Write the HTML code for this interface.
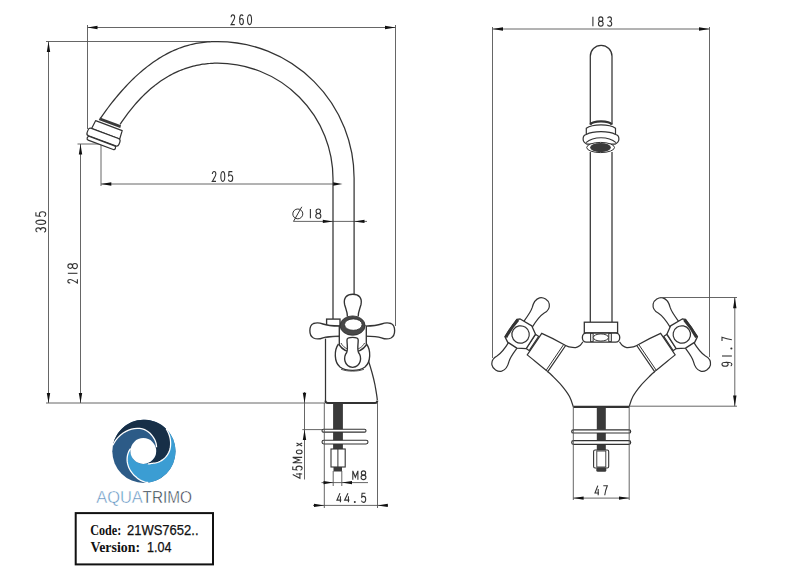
<!DOCTYPE html>
<html><head><meta charset="utf-8"><style>
html,body{margin:0;padding:0;background:#fff;width:800px;height:583px;overflow:hidden}
svg{display:block}
</style></head><body>
<svg width="800" height="583" viewBox="0 0 800 583">
<line x1="87.5" y1="25" x2="87.5" y2="129" stroke="#555" stroke-width="0.9" fill="none"/>
<line x1="395.5" y1="25" x2="395.5" y2="326" stroke="#555" stroke-width="0.9" fill="none"/>
<line x1="87.5" y1="27.5" x2="395.5" y2="27.5" stroke="#555" stroke-width="0.9" fill="none"/>
<polygon points="87.50,27.50 97.50,29.20 97.50,25.80" fill="#111"/>
<polygon points="395.50,27.50 385.00,25.80 385.00,29.20" fill="#111"/>
<g transform="translate(231.00,14.85) scale(0.760,0.933)" fill="none" stroke="#333" stroke-width="1.1"><path d="M0.2,2.6 C0.2,1 1.2,0 2.5,0 C3.8,0 4.8,1 4.8,2.6 C4.8,4.4 3.6,5.8 0.1,10.45 L5,10.45" vector-effect="non-scaling-stroke"/></g>
<g transform="translate(239.60,14.85) scale(0.760,0.933)" fill="none" stroke="#333" stroke-width="1.1"><path d="M4.6,1.2 C4.2,0.4 3.4,0 2.5,0 C0.9,0 0,2.3 0,5.6 C0,8.8 1,10.5 2.5,10.5 C4,10.5 5,9.1 5,7.1 C5,5.1 4,3.9 2.5,3.9 C1.2,3.9 0.3,4.8 0,6.2" vector-effect="non-scaling-stroke"/></g>
<g transform="translate(247.50,14.85) scale(0.820,0.933)" fill="none" stroke="#333" stroke-width="1.1"><ellipse cx="2.5" cy="5.25" rx="2.45" ry="5.2" vector-effect="non-scaling-stroke"/></g>
<line x1="46" y1="41.5" x2="210" y2="41.5" stroke="#555" stroke-width="0.9" fill="none"/>
<line x1="48.5" y1="41.5" x2="48.5" y2="403" stroke="#555" stroke-width="0.9" fill="none"/>
<polygon points="48.50,41.50 46.80,52.00 50.20,52.00" fill="#111"/>
<polygon points="48.50,403.00 50.20,393.00 46.80,393.00" fill="#111"/>
<line x1="46" y1="403" x2="325" y2="403" stroke="#555" stroke-width="0.9" fill="none"/>
<g transform="translate(35.85,232.20) rotate(-90) scale(0.920,0.943)" fill="none" stroke="#333" stroke-width="1.1"><path d="M0.2,1.6 C0.6,0.6 1.4,0 2.5,0 C3.8,0 4.7,1 4.7,2.6 C4.7,4.1 3.7,5 2.1,5 C4,5 5,6.2 5,7.8 C5,9.5 3.9,10.5 2.5,10.5 C1.3,10.5 0.4,9.9 0,8.8" vector-effect="non-scaling-stroke"/></g>
<g transform="translate(35.85,224.40) rotate(-90) scale(0.860,0.943)" fill="none" stroke="#333" stroke-width="1.1"><ellipse cx="2.5" cy="5.25" rx="2.45" ry="5.2" vector-effect="non-scaling-stroke"/></g>
<g transform="translate(35.85,216.60) rotate(-90) scale(0.960,0.943)" fill="none" stroke="#333" stroke-width="1.1"><path d="M4.6,0.05 L0.8,0.05 L0.35,4.4 C0.9,3.9 1.7,3.7 2.5,3.7 C4,3.7 5,5 5,7 C5,9.2 3.9,10.5 2.5,10.5 C1.3,10.5 0.4,9.8 0,8.6" vector-effect="non-scaling-stroke"/></g>
<line x1="77.5" y1="144" x2="101" y2="144" stroke="#555" stroke-width="0.9" fill="none"/>
<line x1="80.5" y1="144" x2="80.5" y2="403" stroke="#555" stroke-width="0.9" fill="none"/>
<polygon points="80.50,144.00 78.80,154.50 82.20,154.50" fill="#111"/>
<polygon points="80.50,403.00 82.20,393.00 78.80,393.00" fill="#111"/>
<g transform="translate(67.85,283.10) rotate(-90) scale(0.760,0.914)" fill="none" stroke="#333" stroke-width="1.1"><path d="M0.2,2.6 C0.2,1 1.2,0 2.5,0 C3.8,0 4.8,1 4.8,2.6 C4.8,4.4 3.6,5.8 0.1,10.45 L5,10.45" vector-effect="non-scaling-stroke"/></g>
<g transform="translate(67.85,275.40) rotate(-90) scale(0.840,0.914)" fill="none" stroke="#333" stroke-width="1.1"><path d="M2.5,0 L2.5,10.5" vector-effect="non-scaling-stroke"/></g>
<g transform="translate(67.85,268.70) rotate(-90) scale(1.040,0.914)" fill="none" stroke="#333" stroke-width="1.1"><ellipse cx="2.5" cy="2.6" rx="2.15" ry="2.55" vector-effect="non-scaling-stroke"/><ellipse cx="2.5" cy="7.75" rx="2.45" ry="2.7" vector-effect="non-scaling-stroke"/></g>
<line x1="101" y1="144" x2="101" y2="186" stroke="#555" stroke-width="0.9" fill="none"/>
<line x1="101" y1="184" x2="333" y2="184" stroke="#555" stroke-width="0.9" fill="none"/>
<polygon points="101.00,184.00 111.30,185.70 111.30,182.30" fill="#111"/>
<polygon points="342.50,184.00 333.00,182.30 333.00,185.70" fill="#111"/>
<g transform="translate(212.20,171.55) scale(0.760,0.943)" fill="none" stroke="#333" stroke-width="1.1"><path d="M0.2,2.6 C0.2,1 1.2,0 2.5,0 C3.8,0 4.8,1 4.8,2.6 C4.8,4.4 3.6,5.8 0.1,10.45 L5,10.45" vector-effect="non-scaling-stroke"/></g>
<g transform="translate(220.80,171.55) scale(0.800,0.943)" fill="none" stroke="#333" stroke-width="1.1"><ellipse cx="2.5" cy="5.25" rx="2.45" ry="5.2" vector-effect="non-scaling-stroke"/></g>
<g transform="translate(228.30,171.55) scale(0.880,0.943)" fill="none" stroke="#333" stroke-width="1.1"><path d="M4.6,0.05 L0.8,0.05 L0.35,4.4 C0.9,3.9 1.7,3.7 2.5,3.7 C4,3.7 5,5 5,7 C5,9.2 3.9,10.5 2.5,10.5 C1.3,10.5 0.4,9.8 0,8.6" vector-effect="non-scaling-stroke"/></g>
<line x1="293.5" y1="221.4" x2="367" y2="221.4" stroke="#555" stroke-width="0.9" fill="none"/>
<polygon points="333.00,221.40 322.80,219.70 322.80,223.10" fill="#111"/>
<polygon points="354.20,221.40 364.50,223.10 364.50,219.70" fill="#111"/>
<ellipse cx="297.8" cy="213.9" rx="5" ry="4.9" stroke="#333" stroke-width="1" fill="none"/>
<line x1="293.5" y1="221.4" x2="301.8" y2="206.8" stroke="#333" stroke-width="1"/>
<g transform="translate(308.30,208.95) scale(0.840,0.895)" fill="none" stroke="#333" stroke-width="1.1"><path d="M2.5,0 L2.5,10.5" vector-effect="non-scaling-stroke"/></g>
<g transform="translate(315.70,208.95) scale(1.040,0.895)" fill="none" stroke="#333" stroke-width="1.1"><ellipse cx="2.5" cy="2.6" rx="2.15" ry="2.55" vector-effect="non-scaling-stroke"/><ellipse cx="2.5" cy="7.75" rx="2.45" ry="2.7" vector-effect="non-scaling-stroke"/></g>
<path d="M100.40,118.31 L102.35,115.52 L104.30,112.79 L106.26,110.11 L108.21,107.50 L110.16,104.94 L112.11,102.43 L114.06,99.99 L116.01,97.59 L117.97,95.26 L119.92,92.98 L121.87,90.75 L123.82,88.58 L125.77,86.46 L127.72,84.39 L129.68,82.38 L131.63,80.42 L133.58,78.52 L135.53,76.66 L137.48,74.86 L139.43,73.11 L141.38,71.41 L143.34,69.77 L145.29,68.17 L147.24,66.63 L149.19,65.13 L151.14,63.69 L153.09,62.29 L155.05,60.94 L157.00,59.65 L158.95,58.40 L160.90,57.20 L162.85,56.05 L164.81,54.94 L166.76,53.89 L168.71,52.88 L170.66,51.92 L172.61,51.00 L174.56,50.13 L176.51,49.30 L178.47,48.53 L180.42,47.79 L182.37,47.10 L184.32,46.45 L186.27,45.85 L188.23,45.29 L190.18,44.77 L192.13,44.29 L194.08,43.85 L196.03,43.46 L197.98,43.10 L199.94,42.78 L201.89,42.51 L203.84,42.27 L205.79,42.06 L207.74,41.90 L209.69,41.77 L211.64,41.67 L213.60,41.61 L215.55,41.59 L217.50,41.59 A136.5,136.5 0 0 1 354.1,178.2 L354.1,294" stroke="#333" stroke-width="1.25" fill="none"/>
<path d="M120.10,124.38 L121.72,121.97 L123.35,119.62 L124.97,117.33 L126.59,115.11 L128.22,112.95 L129.84,110.84 L131.46,108.80 L133.09,106.82 L134.71,104.90 L136.33,103.03 L137.96,101.22 L139.58,99.46 L141.20,97.75 L142.83,96.10 L144.45,94.49 L146.07,92.94 L147.70,91.44 L149.32,89.99 L150.94,88.58 L152.57,87.22 L154.19,85.90 L155.81,84.63 L157.44,83.41 L159.06,82.23 L160.68,81.09 L162.31,79.99 L163.93,78.93 L165.55,77.92 L167.18,76.94 L168.80,76.00 L170.42,75.10 L172.05,74.24 L173.67,73.42 L175.29,72.63 L176.92,71.88 L178.54,71.16 L180.16,70.47 L181.79,69.82 L183.41,69.21 L185.03,68.62 L186.66,68.07 L188.28,67.55 L189.90,67.07 L191.53,66.61 L193.15,66.18 L194.77,65.79 L196.40,65.42 L198.02,65.08 L199.64,64.77 L201.27,64.49 L202.89,64.24 L204.51,64.01 L206.14,63.81 L207.76,63.64 L209.38,63.50 L211.01,63.38 L212.63,63.29 L214.25,63.22 L215.88,63.18 L217.50,63.17 A115.5,115.5 0 0 1 333,178.7 L333,319" stroke="#333" stroke-width="1.25" fill="none"/>
<g transform="translate(110.3,121.9) rotate(20.5) scale(1,1.06)"><path d="M-11.2,-0.6 L11.2,-0.6 L11.5,2.1 L-11.5,2.1 Z" fill="#3a3a3a"/><path d="M-14.2,3.8 L14.2,3.8 L14.8,12 L-15.2,12 Z" stroke="#333" stroke-width="1.2" fill="#fff" stroke-linejoin="round"/><rect x="-18" y="12" width="34" height="7.5" rx="2.6" stroke="#333" stroke-width="1.2" fill="#fff"/><rect x="-16" y="19.8" width="30" height="3.6" rx="1.6" stroke="#333" stroke-width="1.2" fill="#fff"/></g>
<path d="M325.5,338.6 L325.5,401" stroke="#333" stroke-width="1.25" fill="none"/>
<path d="M368,359.5 C370.5,367 373,375 375,385 C376.2,392 377,396 377.3,400" stroke="#333" stroke-width="1.25" fill="none"/>
<path d="M325.5,400.8 C325.5,402.3 326,403 327.8,403 L375,403 C376.6,403 377.3,402.3 377.3,400.5" stroke="#333" stroke-width="2" fill="none"/>
<rect x="326.6" y="319.1" width="13.4" height="6.9" stroke="#333" stroke-width="1.35" fill="#fff"/>
<path d="M347.4,316.5 C347.6,312 345.6,308.5 344.6,304.5 C343.2,297.5 347,294.2 352.8,294.2 C358.6,294.2 362.4,297.5 361,304.5 C360,308.5 358,312 358.2,316.5" stroke="#333" stroke-width="1.35" fill="#fff"/>
<path d="M339.5,326.1 C333,326 327,325.5 323,324 C320,322.8 316.5,322.4 313.5,323.5 C308.8,325.5 308.5,335.5 313.5,338 C316.5,339.4 320,339 323,337.8 C327,336.5 333,336.2 339.5,336.1" stroke="#333" stroke-width="1.35" fill="#fff"/>
<path d="M326,337.6 C330,336.8 334,336.5 339.5,336.6" stroke="#444" stroke-width="1" fill="none"/>
<path d="M365,326.1 C371.5,326 377.5,325.5 381.5,324 C384.5,322.8 388,322.4 391,323.5 C395.7,325.5 396,335.5 391,338 C388,339.4 384.5,339 381.5,337.8 C377.5,336.5 371.5,336.2 365,336.1" stroke="#333" stroke-width="1.35" fill="#fff"/>
<path d="M338.5,344 C334,350 334,362 340,367 C346,371.5 359,371.5 365,367 C371,362 371,350 366.5,344" stroke="#333" stroke-width="1.35" fill="#fff"/>
<path d="M341,369.2 C347,371.8 358,371.8 364,369.2" stroke="#444" stroke-width="0.9" fill="none"/>
<path d="M339.3,326 L339.3,345 C342,349 347,352 352.8,352 C358.5,352 363.5,349 366.3,345 L366.3,326" stroke="#333" stroke-width="1.35" fill="#fff"/>
<path d="M341,343 C343,347 347,349 348,349 M364.6,343 C362.5,347 358.5,349 357.5,349" stroke="#444" stroke-width="1" fill="none"/>
<ellipse cx="352.6" cy="325.6" rx="12.5" ry="9.7" fill="#484848" stroke="#2a2a2a" stroke-width="0.8"/>
<ellipse cx="353.3" cy="324.6" rx="8.8" ry="5.7" fill="#fff" stroke="#2a2a2a" stroke-width="0.8"/>
<path d="M347,340 C347,336.5 358.2,336.5 358.2,340 C358.2,345 357,349 358.5,352.5 C362,357 361.5,366.5 352.6,367.3 C343.8,366.5 343.2,357 346.7,352.5 C348.2,349 347,345 347,340Z" stroke="#333" stroke-width="1.35" fill="#fff"/>
<rect x="333.1" y="403.5" width="9.8" height="45.5" fill="#3a3a3a"/>
<rect x="322" y="429.3" width="44" height="2.8" rx="1.4" stroke="#333" stroke-width="1.1" fill="#fff"/>
<rect x="322" y="440.2" width="46" height="3.8" rx="1.9" stroke="#333" stroke-width="1.1" fill="#fff"/>
<rect x="331" y="449" width="14.2" height="18" stroke="#333" stroke-width="1.1" fill="#fff"/>
<line x1="337.9" y1="449" x2="337.9" y2="467" stroke="#333" stroke-width="1"/>
<rect x="333.5" y="467" width="8.5" height="4.5" fill="#3a3a3a"/>
<line x1="333.2" y1="471" x2="333.2" y2="486" stroke="#555" stroke-width="0.9" fill="none"/>
<line x1="341.8" y1="471" x2="341.8" y2="486" stroke="#555" stroke-width="0.9" fill="none"/>
<line x1="324.3" y1="403" x2="324.3" y2="508" stroke="#555" stroke-width="0.9" fill="none"/>
<line x1="377.5" y1="403" x2="377.5" y2="508" stroke="#555" stroke-width="0.9" fill="none"/>
<line x1="304.5" y1="392" x2="304.5" y2="479.5" stroke="#555" stroke-width="0.9" fill="none"/>
<polygon points="304.50,403.00 306.20,392.70 302.80,392.70" fill="#111"/>
<polygon points="304.50,429.60 302.80,440.00 306.20,440.00" fill="#111"/>
<line x1="302.3" y1="429.6" x2="322" y2="429.6" stroke="#555" stroke-width="0.9" fill="none"/>
<g transform="translate(292.75,478.30) rotate(-90) scale(1.080,0.895)" fill="none" stroke="#333" stroke-width="1.1"><path d="M3.5,0 L0,8 L5,8 M4,3.6 L4,10.5" vector-effect="non-scaling-stroke"/></g>
<g transform="translate(292.75,470.20) rotate(-90) scale(0.820,0.895)" fill="none" stroke="#333" stroke-width="1.1"><path d="M4.6,0.05 L0.8,0.05 L0.35,4.4 C0.9,3.9 1.7,3.7 2.5,3.7 C4,3.7 5,5 5,7 C5,9.2 3.9,10.5 2.5,10.5 C1.3,10.5 0.4,9.8 0,8.6" vector-effect="non-scaling-stroke"/></g>
<g transform="translate(292.75,462.90) rotate(-90) scale(1.120,0.895)" fill="none" stroke="#333" stroke-width="1.1"><path d="M0.1,10.5 L0.1,0 L2.5,7.6 L4.9,0 L4.9,10.5" vector-effect="non-scaling-stroke"/></g>
<g transform="translate(292.75,453.90) rotate(-90) scale(0.800,0.895)" fill="none" stroke="#333" stroke-width="1.1"><ellipse cx="2.5" cy="7.25" rx="2.4" ry="3.2" vector-effect="non-scaling-stroke"/></g>
<g transform="translate(292.75,446.20) rotate(-90) scale(0.680,0.895)" fill="none" stroke="#333" stroke-width="1.1"><path d="M0.3,4.2 L4.7,10.5 M4.7,4.2 L0.3,10.5" vector-effect="non-scaling-stroke"/></g>
<line x1="321.5" y1="482.6" x2="368" y2="482.6" stroke="#555" stroke-width="0.9" fill="none"/>
<polygon points="333.20,482.60 323.50,480.90 323.50,484.30" fill="#111"/>
<polygon points="341.80,482.60 352.00,484.30 352.00,480.90" fill="#111"/>
<g transform="translate(352.70,470.85) scale(1.060,0.838)" fill="none" stroke="#333" stroke-width="1.1"><path d="M0.1,10.5 L0.1,0 L2.5,7.6 L4.9,0 L4.9,10.5" vector-effect="non-scaling-stroke"/></g>
<g transform="translate(361.00,470.85) scale(1.000,0.838)" fill="none" stroke="#333" stroke-width="1.1"><ellipse cx="2.5" cy="2.6" rx="2.15" ry="2.55" vector-effect="non-scaling-stroke"/><ellipse cx="2.5" cy="7.75" rx="2.45" ry="2.7" vector-effect="non-scaling-stroke"/></g>
<line x1="313" y1="505.4" x2="388" y2="505.4" stroke="#555" stroke-width="0.9" fill="none"/>
<polygon points="324.30,505.40 314.00,503.70 314.00,507.10" fill="#111"/>
<polygon points="377.50,505.40 387.80,507.10 387.80,503.70" fill="#111"/>
<g transform="translate(336.90,493.15) scale(0.880,0.876)" fill="none" stroke="#333" stroke-width="1.1"><path d="M3.5,0 L0,8 L5,8 M4,3.6 L4,10.5" vector-effect="non-scaling-stroke"/></g>
<g transform="translate(344.60,493.15) scale(0.960,0.876)" fill="none" stroke="#333" stroke-width="1.1"><path d="M3.5,0 L0,8 L5,8 M4,3.6 L4,10.5" vector-effect="non-scaling-stroke"/></g>
<g transform="translate(352.70,493.15) scale(0.840,0.876)" fill="none" stroke="#333" stroke-width="1.1"><circle cx="2.5" cy="10" r="0.55" fill="#333" vector-effect="non-scaling-stroke"/></g>
<g transform="translate(361.40,493.15) scale(0.860,0.876)" fill="none" stroke="#333" stroke-width="1.1"><path d="M4.6,0.05 L0.8,0.05 L0.35,4.4 C0.9,3.9 1.7,3.7 2.5,3.7 C4,3.7 5,5 5,7 C5,9.2 3.9,10.5 2.5,10.5 C1.3,10.5 0.4,9.8 0,8.6" vector-effect="non-scaling-stroke"/></g>
<line x1="492.5" y1="27" x2="492.5" y2="358" stroke="#555" stroke-width="0.9" fill="none"/>
<line x1="709.5" y1="27" x2="709.5" y2="357" stroke="#555" stroke-width="0.9" fill="none"/>
<line x1="492.5" y1="29" x2="709.5" y2="29" stroke="#555" stroke-width="0.9" fill="none"/>
<polygon points="492.50,29.00 503.00,30.70 503.00,27.30" fill="#111"/>
<polygon points="709.50,29.00 699.00,27.30 699.00,30.70" fill="#111"/>
<g transform="translate(590.80,16.85) scale(0.840,0.886)" fill="none" stroke="#333" stroke-width="1.1"><path d="M2.5,0 L2.5,10.5" vector-effect="non-scaling-stroke"/></g>
<g transform="translate(598.40,16.85) scale(0.960,0.886)" fill="none" stroke="#333" stroke-width="1.1"><ellipse cx="2.5" cy="2.6" rx="2.15" ry="2.55" vector-effect="non-scaling-stroke"/><ellipse cx="2.5" cy="7.75" rx="2.45" ry="2.7" vector-effect="non-scaling-stroke"/></g>
<g transform="translate(607.40,16.85) scale(0.860,0.886)" fill="none" stroke="#333" stroke-width="1.1"><path d="M0.2,1.6 C0.6,0.6 1.4,0 2.5,0 C3.8,0 4.7,1 4.7,2.6 C4.7,4.1 3.7,5 2.1,5 C4,5 5,6.2 5,7.8 C5,9.5 3.9,10.5 2.5,10.5 C1.3,10.5 0.4,9.9 0,8.8" vector-effect="non-scaling-stroke"/></g>
<path d="M590.3,124.5 L590.3,56.2 A10.85,10.85 0 0 1 612,56.2 L612,124.5" stroke="#333" stroke-width="1.25" fill="none"/>
<path d="M590.3,152 L590.3,322.2 M612,152 L612,322.2" stroke="#333" stroke-width="1.25" fill="none"/>
<path d="M590.2,124.6 C592,121.9 597,121.4 601,121.4 C605,121.4 610,121.9 611.8,124.6" stroke="#333" stroke-width="2.1" fill="#fff"/>
<path d="M586.3,135.1 L586.3,128.2 C590,125.5 595,124.8 601,124.8 C607,124.8 612,125.5 615.5,128.2 L615.5,135.1 Z" stroke="#333" stroke-width="1.2" fill="#fff"/>
<path d="M586.3,134.5 C583.6,135 583.1,137 583.1,139 C583.1,141.5 584.5,143 587,144.2 L615,144.2 C617.5,143 618.9,141.5 618.9,139 C618.9,137 618.4,135 615.5,134.5 C612,132.5 607,131.7 601,131.7 C595,131.7 590,132.5 586.3,134.5 Z" stroke="#333" stroke-width="1.2" fill="#fff"/>
<path d="M586,142.6 C590,139.2 595,137.8 601,137.8 C607,137.8 612,139.2 616,142.6" stroke="#333" stroke-width="1.1" fill="none"/>
<ellipse cx="600.6" cy="147.5" rx="13.9" ry="5.1" stroke="#333" stroke-width="1" fill="#fff"/>
<ellipse cx="600.5" cy="147.6" rx="10.4" ry="4.6" fill="#3a3a3a"/>
<rect x="584.3" y="322.2" width="33.3" height="10.8" stroke="#333" stroke-width="1.3" fill="#fff"/>
<rect x="582.4" y="333" width="37.3" height="9.1" rx="4" stroke="#333" stroke-width="1.3" fill="#fff"/>
<rect x="590.5" y="333.5" width="2.7" height="8" stroke="#333" stroke-width="0.9" fill="#ddd"/>
<rect x="608.7" y="333.5" width="2.7" height="8" stroke="#333" stroke-width="0.9" fill="#ddd"/>
<ellipse cx="600.9" cy="337.5" rx="7.6" ry="3.6" stroke="#333" stroke-width="1" fill="#fff"/>
<path d="M582.90,341.80 C582.42,342.42 581.22,344.53 580.00,345.50 C578.78,346.47 577.43,347.38 575.60,347.60 C573.77,347.82 570.67,347.15 569.00,346.80 C567.33,346.45 566.17,345.72 565.60,345.50" stroke="#333" stroke-width="1.25" fill="none"/>
<path d="M547.80,371.70 C548.50,372.33 549.68,373.18 552.00,375.50 C554.32,377.82 558.78,382.10 561.70,385.60 C564.62,389.10 567.57,392.97 569.50,396.50 C571.43,400.03 572.67,405.08 573.30,406.80" stroke="#333" stroke-width="1.25" fill="none"/>
<path d="M619.50,341.80 C619.98,342.42 621.18,344.53 622.40,345.50 C623.62,346.47 624.97,347.38 626.80,347.60 C628.63,347.82 631.73,347.15 633.40,346.80 C635.07,346.45 636.23,345.72 636.80,345.50" stroke="#333" stroke-width="1.25" fill="none"/>
<path d="M654.60,371.70 C653.90,372.33 652.72,373.18 650.40,375.50 C648.08,377.82 643.62,382.10 640.70,385.60 C637.78,389.10 634.83,392.97 632.90,396.50 C630.97,400.03 629.73,405.08 629.10,406.80" stroke="#333" stroke-width="1.25" fill="none"/>
<path d="M573.3,406.9 L629.1000000000001,406.9" stroke="#333" stroke-width="2.2"/>
<g transform="translate(520.6,334.5) rotate(34)"><path d="M16.9,-12.8 C26,-14.5 35,-15.5 43.5,-16.1 L43.3,15.6 C35,15 26,14 16.9,13.2 Z" stroke="#333" stroke-width="1.2" fill="#fff"/><line x1="41.3" y1="-15.8" x2="41.2" y2="15.4" stroke="#333" stroke-width="0.9"/><rect x="12.3" y="-8.5" width="3.8" height="17" stroke="#333" stroke-width="1.2" fill="#fff"/><path d="M-4.8,-12 C-4.5,-19 -4,-24 -5.5,-29 C-7,-33 -7.2,-38 -4.8,-41 C-2.2,-44 4,-44.2 6.8,-41.2 C9.5,-38.2 9.2,-34 7.6,-31 C6.3,-28 5,-24 5.6,-12 Z" stroke="#333" stroke-width="1.2" fill="#fff"/><path d="M-4.8,-12 C-4.5,-19 -4,-24 -5.5,-29 C-7,-33 -7.2,-38 -4.8,-41 C-2.2,-44 4,-44.2 6.8,-41.2 C9.5,-38.2 9.2,-34 7.6,-31 C6.3,-28 5,-24 5.6,-12 Z" transform="rotate(180)" stroke="#333" stroke-width="1.2" fill="#fff"/><path d="M-11.6,-10.5 L-9,-12.6 L4.5,-13.4 L12.2,-8.6 L12.6,8.6 L4.5,13.4 L-6.5,13.6 L-11.8,10.5 Z" stroke="#333" stroke-width="1.3" fill="#fff" stroke-linejoin="round"/><path d="M-10.6,10.6 C-11.4,4 -11.4,-4 -10.4,-10.9" fill="none" stroke="#333" stroke-width="3"/><circle cx="0" cy="0" r="8.7" stroke="#333" stroke-width="1.2" fill="#fff"/></g>
<g transform="translate(681.8000000000001,334.5) scale(-1,1) rotate(34)"><path d="M16.9,-12.8 C26,-14.5 35,-15.5 43.5,-16.1 L43.3,15.6 C35,15 26,14 16.9,13.2 Z" stroke="#333" stroke-width="1.2" fill="#fff"/><line x1="41.3" y1="-15.8" x2="41.2" y2="15.4" stroke="#333" stroke-width="0.9"/><rect x="12.3" y="-8.5" width="3.8" height="17" stroke="#333" stroke-width="1.2" fill="#fff"/><path d="M-4.8,-12 C-4.5,-19 -4,-24 -5.5,-29 C-7,-33 -7.2,-38 -4.8,-41 C-2.2,-44 4,-44.2 6.8,-41.2 C9.5,-38.2 9.2,-34 7.6,-31 C6.3,-28 5,-24 5.6,-12 Z" stroke="#333" stroke-width="1.2" fill="#fff"/><path d="M-4.8,-12 C-4.5,-19 -4,-24 -5.5,-29 C-7,-33 -7.2,-38 -4.8,-41 C-2.2,-44 4,-44.2 6.8,-41.2 C9.5,-38.2 9.2,-34 7.6,-31 C6.3,-28 5,-24 5.6,-12 Z" transform="rotate(180)" stroke="#333" stroke-width="1.2" fill="#fff"/><path d="M-11.6,-10.5 L-9,-12.6 L4.5,-13.4 L12.2,-8.6 L12.6,8.6 L4.5,13.4 L-6.5,13.6 L-11.8,10.5 Z" stroke="#333" stroke-width="1.3" fill="#fff" stroke-linejoin="round"/><path d="M-10.6,10.6 C-11.4,4 -11.4,-4 -10.4,-10.9" fill="none" stroke="#333" stroke-width="3"/><circle cx="0" cy="0" r="8.7" stroke="#333" stroke-width="1.2" fill="#fff"/></g>
<rect x="596.8" y="407.5" width="9" height="42.5" fill="#3a3a3a"/>
<rect x="571.7" y="429.8" width="59" height="3.2" rx="1.6" stroke="#333" stroke-width="1.2" fill="#fff"/>
<rect x="571.7" y="440.6" width="59" height="3.7" rx="1.8" stroke="#333" stroke-width="1.2" fill="#fff"/>
<rect x="593.6" y="450" width="15.1" height="18" rx="1.5" stroke="#333" stroke-width="1.1" fill="#fff"/>
<rect x="596.8" y="451" width="9" height="16" stroke="#333" stroke-width="0.9" fill="none"/>
<rect x="596.3" y="467.5" width="10" height="4.2" rx="1.5" fill="#3a3a3a"/>
<line x1="573.3" y1="407" x2="573.3" y2="500" stroke="#555" stroke-width="0.9" fill="none"/>
<line x1="629.2" y1="407" x2="629.2" y2="500" stroke="#555" stroke-width="0.9" fill="none"/>
<line x1="573.3" y1="498.1" x2="629.2" y2="498.1" stroke="#555" stroke-width="0.9" fill="none"/>
<polygon points="573.30,498.10 583.60,499.80 583.60,496.40" fill="#111"/>
<polygon points="629.20,498.10 619.00,496.40 619.00,499.80" fill="#111"/>
<g transform="translate(595.00,485.65) scale(0.800,0.914)" fill="none" stroke="#333" stroke-width="1.1"><path d="M3.5,0 L0,8 L5,8 M4,3.6 L4,10.5" vector-effect="non-scaling-stroke"/></g>
<g transform="translate(603.30,485.65) scale(0.800,0.914)" fill="none" stroke="#333" stroke-width="1.1"><path d="M0,0.05 L5,0.05 C3.6,3 2.3,7 1.8,10.5" vector-effect="non-scaling-stroke"/></g>
<line x1="660" y1="297.5" x2="737" y2="297.5" stroke="#555" stroke-width="0.9" fill="none"/>
<line x1="629.2" y1="406.2" x2="737" y2="406.2" stroke="#555" stroke-width="0.9" fill="none"/>
<line x1="734.8" y1="297.5" x2="734.8" y2="406.2" stroke="#555" stroke-width="0.9" fill="none"/>
<polygon points="734.80,297.50 733.10,308.30 736.50,308.30" fill="#111"/>
<polygon points="734.80,406.20 736.50,395.50 733.10,395.50" fill="#111"/>
<g transform="translate(721.95,366.30) rotate(-90) scale(0.800,0.943)" fill="none" stroke="#333" stroke-width="1.1"><path d="M0.4,9.3 C0.8,10.1 1.6,10.5 2.5,10.5 C4.1,10.5 5,8.2 5,4.9 C5,1.7 4,0 2.5,0 C1,0 0,1.4 0,3.4 C0,5.4 1,6.6 2.5,6.6 C3.8,6.6 4.7,5.7 5,4.3" vector-effect="non-scaling-stroke"/></g>
<g transform="translate(721.95,358.10) rotate(-90) scale(0.840,0.943)" fill="none" stroke="#333" stroke-width="1.1"><path d="M2.5,0 L2.5,10.5" vector-effect="non-scaling-stroke"/></g>
<g transform="translate(721.95,350.70) rotate(-90) scale(0.840,0.943)" fill="none" stroke="#333" stroke-width="1.1"><circle cx="2.5" cy="10" r="0.55" fill="#333" vector-effect="non-scaling-stroke"/></g>
<g transform="translate(721.95,341.10) rotate(-90) scale(0.760,0.943)" fill="none" stroke="#333" stroke-width="1.1"><path d="M0,0.05 L5,0.05 C3.6,3 2.3,7 1.8,10.5" vector-effect="non-scaling-stroke"/></g>
<circle cx="143.9" cy="451.3" r="31.6" fill="#2c5b87"/>
<path d="M166.24,428.96 L168.21,431.11 L169.97,433.44 L171.50,435.92 L172.81,438.53 L173.86,441.25 L174.66,444.06 L175.20,446.92 L175.47,449.83 L175.47,452.75 L175.20,455.65 L174.66,458.52 L173.87,461.33 L172.81,464.05 L171.52,466.66 L169.98,469.14 L168.22,471.47 L166.26,473.63 L164.11,475.60 L161.78,477.36 L159.30,478.89 L156.69,480.20 L153.97,481.25 L151.17,482.05 L148.30,482.59 L148.30,482.59 L147.51,482.47 L146.43,482.29 L145.17,482.01 L143.84,481.64 L142.53,481.19 L141.33,480.69 L140.28,480.14 L139.31,479.55 L138.38,478.90 L137.42,478.17 L136.40,477.33 L135.27,476.36 L134.07,475.21 L132.87,473.91 L131.71,472.46 L130.63,470.88 L129.66,469.21 L128.83,467.46 L128.13,465.61 L127.59,463.65 L127.24,461.64 L127.11,459.67 L127.17,457.80 L127.38,456.10 L127.74,454.46 L128.24,452.86 L128.86,451.40 L129.53,450.17 L130.17,449.22 L130.68,448.59 L130.84,447.66 L130.59,448.78 L130.45,449.91 L130.40,451.06 L130.46,452.20 L130.61,453.33 L130.87,454.45 L131.22,455.54 L131.67,456.59 L132.21,457.60 L132.84,458.55 L133.55,459.45 L134.34,460.28 L135.20,461.04 L136.12,461.72 L137.10,462.31 L138.12,462.82 L139.19,463.23 L140.29,463.54 L141.41,463.76 L142.55,463.88 L143.69,463.89 L144.83,463.81 L145.96,463.62 L147.07,463.34 L147.73,463.83 L148.22,463.84 L148.89,463.81 L149.70,463.74 L150.61,463.62 L151.55,463.48 L152.49,463.35 L153.46,463.23 L154.49,463.08 L155.59,462.88 L156.72,462.61 L157.87,462.25 L159.01,461.80 L160.15,461.26 L161.31,460.63 L162.46,459.90 L163.58,459.07 L164.65,458.14 L165.63,457.12 L166.53,456.03 L167.36,454.88 L168.10,453.65 L168.77,452.35 L169.35,450.97 L169.84,449.49 L170.22,447.91 L170.48,446.25 L170.61,444.53 L170.62,442.78 L170.51,441.00 L170.27,439.23 L169.88,437.34 L169.29,435.33 L168.54,433.34 L167.70,431.53 L166.89,430.03 L166.24,428.96Z" fill="#3b9dd3"/>
<path d="M112.88,445.27 L113.55,442.50 L114.47,439.80 L115.62,437.20 L117.00,434.71 L118.61,432.36 L120.42,430.16 L122.42,428.13 L124.59,426.29 L126.92,424.65 L129.39,423.23 L131.98,422.04 L134.66,421.08 L137.42,420.37 L140.23,419.91 L143.07,419.71 L145.92,419.76 L148.75,420.07 L151.54,420.64 L154.27,421.45 L156.92,422.51 L159.46,423.80 L161.87,425.31 L164.14,427.03 L166.24,428.96 L166.24,428.96 L166.89,430.03 L167.70,431.53 L168.54,433.34 L169.29,435.33 L169.88,437.34 L170.27,439.23 L170.51,441.00 L170.62,442.78 L170.61,444.53 L170.48,446.25 L170.22,447.91 L169.84,449.49 L169.35,450.97 L168.77,452.35 L168.10,453.65 L167.36,454.88 L166.53,456.03 L165.63,457.12 L164.65,458.14 L163.58,459.07 L162.46,459.90 L161.31,460.63 L160.15,461.26 L159.01,461.80 L157.87,462.25 L156.72,462.61 L155.59,462.88 L154.49,463.08 L153.46,463.23 L152.49,463.35 L151.55,463.48 L150.61,463.62 L149.70,463.74 L148.89,463.81 L148.22,463.84 L147.73,463.83 L147.07,463.34 L147.88,463.06 L148.67,462.73 L149.43,462.35 L150.17,461.92 L150.87,461.44 L151.55,460.92 L152.19,460.35 L152.79,459.74 L153.34,459.10 L153.86,458.41 L154.32,457.70 L154.74,456.96 L155.11,456.19 L155.43,455.39 L155.69,454.58 L155.90,453.76 L156.06,452.92 L156.16,452.07 L156.20,451.22 L156.18,450.36 L156.11,449.51 L155.99,448.67 L155.81,447.83 L155.57,447.01 L156.55,447.19 L156.54,446.93 L156.50,446.61 L156.46,446.20 L156.39,445.69 L156.31,445.03 L156.20,444.20 L155.99,443.15 L155.63,441.91 L155.09,440.53 L154.38,439.07 L153.49,437.59 L152.47,436.16 L151.32,434.74 L150.00,433.32 L148.45,431.95 L146.65,430.69 L144.61,429.64 L142.33,428.85 L139.83,428.40 L137.14,428.30 L134.35,428.56 L131.51,429.17 L128.70,430.13 L125.97,431.38 L123.16,433.05 L120.30,435.25 L117.67,437.86 L115.49,440.65 L113.89,443.25 L112.88,445.27Z" fill="#172f47"/>
<circle cx="143.3" cy="451.0" r="12.9" fill="#fff"/>
<path d="M166.24,428.96 L166.89,430.03 L167.70,431.53 L168.54,433.34 L169.29,435.33 L169.88,437.34 L170.27,439.23 L170.51,441.00 L170.62,442.78 L170.61,444.53 L170.48,446.25 L170.22,447.91 L169.84,449.49 L169.35,450.97 L168.77,452.35 L168.10,453.65 L167.36,454.88 L166.53,456.03 L165.63,457.12 L164.65,458.14 L163.58,459.07 L162.46,459.90 L161.31,460.63 L160.15,461.26 L159.01,461.80 L157.87,462.25 L156.72,462.61 L155.59,462.88 L154.49,463.08 L153.46,463.23 L152.49,463.35 L151.55,463.48 L150.61,463.62 L149.70,463.74 L148.89,463.81 L148.22,463.84 L147.73,463.83" stroke="#fff" stroke-width="1.3" fill="none"/>
<path d="M148.30,482.59 L147.51,482.47 L146.43,482.29 L145.17,482.01 L143.84,481.64 L142.53,481.19 L141.33,480.69 L140.28,480.14 L139.31,479.55 L138.38,478.90 L137.42,478.17 L136.40,477.33 L135.27,476.36 L134.07,475.21 L132.87,473.91 L131.71,472.46 L130.63,470.88 L129.66,469.21 L128.83,467.46 L128.13,465.61 L127.59,463.65 L127.24,461.64 L127.11,459.67 L127.17,457.80 L127.38,456.10 L127.74,454.46 L128.24,452.86 L128.86,451.40 L129.53,450.17 L130.17,449.22 L130.68,448.59" stroke="#fff" stroke-width="1.3" fill="none"/>
<path d="M156.55,447.19 L156.54,446.93 L156.50,446.61 L156.46,446.20 L156.39,445.69 L156.31,445.03 L156.20,444.20 L155.99,443.15 L155.63,441.91 L155.09,440.53 L154.38,439.07 L153.49,437.59 L152.47,436.16 L151.32,434.74 L150.00,433.32 L148.45,431.95 L146.65,430.69 L144.61,429.64 L142.33,428.85 L139.83,428.40 L137.14,428.30 L134.35,428.56 L131.51,429.17 L128.70,430.13 L125.97,431.38 L123.16,433.05 L120.30,435.25 L117.67,437.86 L115.49,440.65 L113.89,443.25 L112.88,445.27" stroke="#fff" stroke-width="1.3" fill="none"/>
<text x="96.2" y="502.9" font-family="Liberation Sans" font-size="16" font-weight="normal" fill="#5b90c0" text-anchor="start" textLength="46.6" lengthAdjust="spacingAndGlyphs" stroke="#fff" stroke-width="0.45">AQUA</text>
<text x="142.6" y="502.9" font-family="Liberation Sans" font-size="16" font-weight="normal" fill="#1e2b38" text-anchor="start" textLength="49.4" lengthAdjust="spacingAndGlyphs" stroke="#fff" stroke-width="0.45">TRIMO</text>
<rect x="75.7" y="513.1" width="137.3" height="51.3" stroke="#111" stroke-width="2" fill="none"/>
<text x="90.3" y="535.2" font-family="Liberation Serif" font-size="14" font-weight="bold" fill="#111" text-anchor="start" textLength="31" lengthAdjust="spacingAndGlyphs">Code:</text>
<text x="127" y="535.2" font-family="Liberation Sans" font-size="14" font-weight="normal" fill="#111" text-anchor="start" textLength="71.5" lengthAdjust="spacingAndGlyphs" stroke="#111" stroke-width="0.25">21WS7652..</text>
<text x="90.5" y="552.3" font-family="Liberation Serif" font-size="14" font-weight="bold" fill="#111" text-anchor="start" textLength="49.5" lengthAdjust="spacingAndGlyphs">Version:</text>
<text x="147" y="552.3" font-family="Liberation Sans" font-size="14" font-weight="normal" fill="#111" text-anchor="start" textLength="24.5" lengthAdjust="spacingAndGlyphs" stroke="#111" stroke-width="0.25">1.04</text>
</svg></body></html>
